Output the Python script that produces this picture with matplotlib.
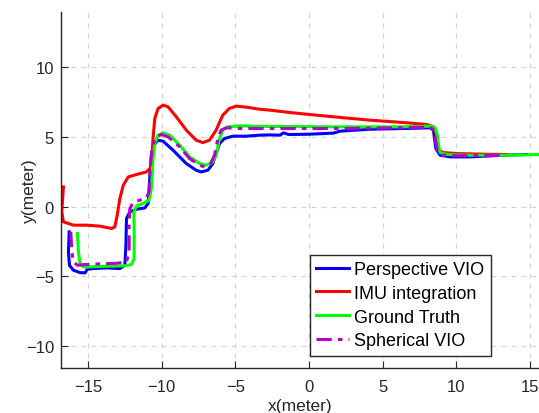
import matplotlib
matplotlib.use("Agg")
import matplotlib.pyplot as plt

plt.rcParams['font.family'] = ['Liberation Sans', 'DejaVu Sans']

# Perspective VIO
persp_x = [-16.28, -16.33, -16.26, -15.99, -15.54, -15.20, -15.05, -14.64, -13.74, -12.84,
           -12.50, -12.43, -12.39, -12.16, -11.71, -11.15, -10.92, -10.81, -10.70, -10.54,
           -10.25, -9.91, -9.23, -8.33, -7.66, -7.32, -6.87, -6.53, -6.31, -6.08,
           -5.74, -5.18, -4.28, -3.38, -2.70, -1.97, -1.74, -1.40, 0.00, 1.65,
           2.10, 4.14, 6.40, 8.21, 8.44, 8.51, 8.60, 8.89, 9.57, 10.93,
           13.19, 14.77]
persp_y = [-1.82, -3.26, -4.22, -4.58, -4.75, -4.77, -4.51, -4.46, -4.41, -4.46,
           -4.22, -2.78, -0.86, -0.38, -0.19, -0.10, 0.22, 2.01, 3.69, 4.41,
           4.77, 4.70, 4.05, 3.09, 2.61, 2.49, 2.61, 3.09, 3.81, 4.53,
           4.89, 5.06, 5.06, 5.13, 5.15, 5.13, 5.30, 5.18, 5.20, 5.28,
           5.42, 5.56, 5.61, 5.66, 5.49, 4.89, 4.17, 3.69, 3.57, 3.57,
           3.69, 3.74]

# IMU integration
imu_x = [-16.67, -16.78, -16.67, -15.99, -15.09, -14.19, -13.40, -13.18, -13.02, -12.84,
         -12.61, -12.27, -11.71, -11.04, -10.70, -10.59, -10.47, -10.25, -9.91, -9.57,
         -9.01, -8.33, -7.66, -7.21, -6.76, -6.31, -5.86, -5.41, -4.95, -4.28,
         -3.38, -2.65, -1.29, 0.00, 1.88, 4.14, 6.40, 7.99, 8.44, 8.60,
         8.67, 8.78, 9.12, 10.02, 12.06, 13.42]
imu_y = [1.41, -0.38, -1.10, -1.34, -1.34, -1.41, -1.58, -1.46, -0.62, 0.58,
         1.53, 2.13, 2.30, 2.49, 2.85, 4.89, 6.33, 7.05, 7.29, 7.17,
         6.45, 5.49, 4.77, 4.60, 4.77, 5.49, 6.57, 7.05, 7.22, 7.15,
         7.00, 6.93, 6.76, 6.62, 6.43, 6.21, 6.04, 5.90, 5.73, 5.37,
         4.65, 4.05, 3.88, 3.81, 3.76, 3.74]

# Ground Truth
gt_x = [-15.72, -15.65, -15.54, -15.32, -14.86, -13.74, -12.61, -12.05, -11.87, -11.87,
        -11.89, -11.71, -11.26, -10.86, -10.70, -10.59, -10.47, -10.25, -9.91, -9.46,
        -8.78, -8.11, -7.43, -6.98, -6.53, -6.31, -6.08, -5.86, -5.52, -4.73,
        -2.65, 1.88, 6.40, 8.21, 8.55, 8.71, 8.78, 8.89, 9.34, 10.93,
        13.19, 15.68]
gt_y = [-1.94, -3.26, -4.10, -4.34, -4.34, -4.29, -4.27, -4.17, -3.74, -1.82,
        -0.38, 0.05, 0.22, 0.46, 1.29, 3.45, 4.53, 5.13, 5.30, 5.13,
        4.41, 3.57, 3.09, 2.97, 3.21, 3.69, 4.89, 5.49, 5.73, 5.80,
        5.76, 5.73, 5.73, 5.78, 5.66, 5.13, 4.41, 3.88, 3.74, 3.69,
        3.69, 3.74]

# Spherical VIO
sph_x = [-16.17, -16.10, -15.99, -15.72, -15.20, -14.19, -13.06, -12.39, -12.21, -12.21,
         -12.16, -11.94, -11.49, -11.04, -10.86, -10.77, -10.63, -10.36, -10.02, -9.57,
         -8.78, -8.11, -7.43, -7.09, -6.71, -6.42, -6.19, -5.97, -5.63, -4.73,
         -2.65, 1.88, 6.40, 8.21, 8.48, 8.60, 8.71, 9.00, 10.02, 13.19]
sph_y = [-1.82, -3.26, -3.98, -4.22, -4.17, -4.12, -4.08, -3.98, -3.26, -1.34,
         -0.14, 0.29, 0.46, 0.58, 1.06, 2.97, 4.41, 5.01, 5.18, 5.01,
         4.29, 3.45, 2.97, 2.85, 3.02, 3.69, 4.89, 5.49, 5.66, 5.61,
         5.61, 5.61, 5.66, 5.71, 5.49, 4.65, 3.93, 3.69, 3.65, 3.69]

x_ticks = [-15, -10, -5, 0, 5, 10, 15]
y_ticks = [-10, -5, 0, 5, 10]

fig = plt.figure(figsize=(5.39, 4.14), dpi=100)
ax = fig.add_axes([0.113, 0.109, 0.887, 0.86])

ax.plot(persp_x, persp_y, color='#0000ff', lw=2.2, label='Perspective VIO')
ax.plot(imu_x, imu_y, color='#ff0000', lw=2.2, label='IMU integration')
ax.plot(gt_x, gt_y, color='#00ff00', lw=2.2, label='Ground Truth')
ax.plot(sph_x, sph_y, color='#b400c8', lw=2.2, ls=(0, (5, 2, 1.5, 2)), label='Spherical VIO')

ax.set_xlim(-16.84, 15.6)
ax.set_ylim(-11.6, 14.0)
ax.set_xticks(x_ticks)
ax.set_yticks(y_ticks)
ax.grid(True, ls=(0, (4, 4)), color='#d4d4d4', lw=0.9)
ax.set_axisbelow(True)

for side in ['top', 'right']:
    ax.spines[side].set_visible(False)
for side in ['left', 'bottom']:
    ax.spines[side].set_color('#262626')
    ax.spines[side].set_linewidth(1.0)
ax.tick_params(direction='in', length=5, width=0.8, colors='#262626', labelsize=12)
ax.tick_params(axis='x', pad=8)
ax.tick_params(axis='y', pad=5)

ax.set_xlabel('x(meter)', fontsize=12.5, color='#262626', labelpad=3)
ax.set_ylabel('y(meter)', fontsize=12.5, color='#262626', labelpad=-8)

leg = ax.legend(loc='lower left', bbox_to_anchor=(0.521, 0.034), fontsize=13,
                fancybox=False, edgecolor='#262626', framealpha=1,
                handlelength=1.8, handletextpad=0.3, labelspacing=0.38,
                borderpad=0.35, borderaxespad=0)
leg.get_frame().set_linewidth(1.0)

fig.savefig('out.png', dpi=100)
